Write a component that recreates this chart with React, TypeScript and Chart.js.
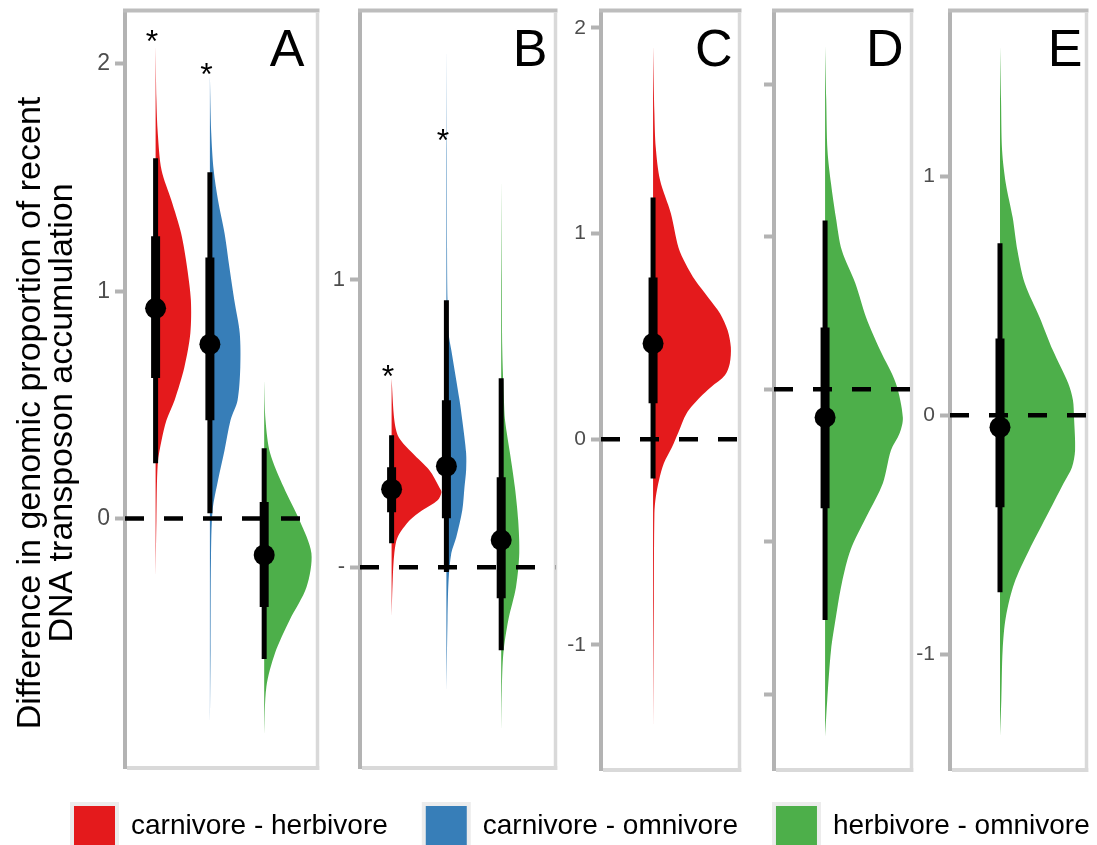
import React, { useEffect, useRef } from "react";
import { Chart, registerables } from "chart.js";

Chart.register(...registerables);

const FONT = "'Liberation Sans', Arial, Helvetica, sans-serif";

const contrastLabels = ["carnivore - herbivore", "carnivore - omnivore", "herbivore - omnivore"];
const contrastColors = ["#E41A1C", "#377EB8", "#4DAF4A"];
const yTitleLines = ["Difference in genomic proportion of recent", "DNA transposon accumulation"];
const referenceLine = 0;

// ---------- Panel A ----------
const aCarnHerbValues = [-0.27, -0.007, 0.244, 0.345, 0.433, 0.521, 0.666, 0.815, 0.96, 1.105, 1.255, 1.4, 1.532, 1.695, 1.84, 2.081];
const aCarnHerbDensity = [0, 0.015, 0.04, 0.11, 0.2, 0.35, 0.53, 0.64, 0.65, 0.58, 0.47, 0.29, 0.11, 0.04, 0.015, 0];
const aCarnOmniValues = [-0.93, -0.578, -0.182, 0.037, 0.169, 0.301, 0.433, 0.521, 0.666, 0.815, 0.96, 1.105, 1.255, 1.4, 1.532, 1.695, 1.949];
const aCarnOmniDensity = [0, 0.012, 0.02, 0.05, 0.15, 0.27, 0.38, 0.51, 0.56, 0.55, 0.45, 0.36, 0.27, 0.15, 0.07, 0.025, 0];
const aHerbOmniValues = [-0.952, -0.741, -0.591, -0.446, -0.301, -0.152, -0.007, 0.138, 0.288, 0.433, 0.609];
const aHerbOmniDensity = [0, 0.04, 0.2, 0.47, 0.78, 0.87, 0.65, 0.36, 0.11, 0.025, 0];
const aMedian = [0.925, 0.767, -0.16];
const aLow66 = [0.618, 0.433, -0.389];
const aHigh66 = [1.242, 1.149, 0.073];
const aLow95 = [0.244, 0.024, -0.618];
const aHigh95 = [1.585, 1.523, 0.31];
const aStars: (number | null)[] = [2.134, 1.989, null];
const aTicks = [0, 1, 2];
const aTickLabels = ["0", "1", "2"];

// ---------- Panel B ----------
const bCarnHerbValues = [-0.177, -0.045, 0.049, 0.104, 0.163, 0.198, 0.233, 0.261, 0.278, 0.337, 0.397, 0.452, 0.511, 0.657];
const bCarnHerbDensity = [0, 0.02, 0.05, 0.11, 0.33, 0.56, 0.84, 0.91, 0.87, 0.69, 0.38, 0.13, 0.05, 0];
const bCarnOmniValues = [-0.445, -0.184, -0.045, 0.049, 0.104, 0.198, 0.278, 0.337, 0.397, 0.511, 0.581, 0.755, 0.814, 0.929, 1.103, 1.45, 1.816];
const bCarnOmniDensity = [0, 0.02, 0.04, 0.09, 0.18, 0.29, 0.33, 0.36, 0.36, 0.29, 0.24, 0.09, 0.04, 0.02, 0.012, 0.008, 0];
const bHerbOmniValues = [-0.584, -0.428, -0.299, -0.184, -0.07, 0.049, 0.163, 0.278, 0.397, 0.511, 0.581, 0.755, 0.998, 1.357];
const bHerbOmniDensity = [0, 0.012, 0.04, 0.13, 0.27, 0.33, 0.31, 0.25, 0.16, 0.07, 0.05, 0.02, 0.012, 0];
const bMedian = [0.271, 0.351, 0.094];
const bLow66 = [0.191, 0.17, -0.108];
const bHigh66 = [0.348, 0.581, 0.313];
const bLow95 = [0.083, -0.017, -0.289];
const bHigh95 = [0.459, 0.929, 0.657];
const bStars: (number | null)[] = [0.692, 1.513, null];
const bTicks = [0, 1];
const bTickLabels = ["-", "1"];

// ---------- Panel C (carnivore - herbivore) ----------
const cValues = [-1.448, -0.782, -0.36, -0.282, -0.199, -0.117, -0.039, 0.034, 0.126, 0.204, 0.253, 0.311, 0.369, 0.447, 0.53, 0.612, 0.69, 0.773, 0.855, 0.933, 1.098, 1.259, 1.419, 1.584, 1.914];
const cDensity = [0, 0.015, 0.025, 0.05, 0.11, 0.2, 0.35, 0.47, 0.62, 0.87, 1.07, 1.33, 1.42, 1.44, 1.38, 1.24, 1.02, 0.78, 0.6, 0.47, 0.33, 0.13, 0.05, 0.025, 0];
const cMedian = [0.466];
const cLow66 = [0.175];
const cHigh66 = [0.787];
const cLow95 = [-0.19];
const cHigh95 = [1.176];
const cTicks = [-1, 0, 1, 2];
const cTickLabels = ["-1", "0", "1", "2"];

// ---------- Panel D (herbivore - omnivore) ----------
const dValues = [-1.141, -1.02, -0.856, -0.748, -0.636, -0.528, -0.42, -0.308, -0.2, -0.144, -0.092, 0.02, 0.128, 0.236, 0.348, 0.456, 0.564, 0.675, 0.784, 0.948, 1.128];
const dDensity = [0, 0.04, 0.11, 0.2, 0.31, 0.47, 0.76, 1.07, 1.22, 1.38, 1.44, 1.31, 1.02, 0.76, 0.56, 0.31, 0.2, 0.11, 0.045, 0.022, 0];
const dMedian = [-0.092];
const dLow66 = [-0.39];
const dHigh66 = [0.203];
const dLow95 = [-0.757];
const dHigh95 = [0.554];
const dTicks = [-1, -0.5, 0, 0.5, 1];
const dTickLabels = ["", "", "", "", ""];

// ---------- Panel E (herbivore - omnivore) ----------
const eValues = [-1.347, -1.192, -0.983, -0.845, -0.703, -0.565, -0.427, -0.285, -0.218, -0.146, -0.008, 0.063, 0.134, 0.272, 0.41, 0.552, 0.69, 0.828, 0.971, 1.109, 1.318, 1.548];
const eDensity = [0, 0.025, 0.05, 0.11, 0.27, 0.55, 0.87, 1.2, 1.36, 1.42, 1.4, 1.38, 1.29, 1.0, 0.75, 0.47, 0.33, 0.24, 0.11, 0.04, 0.02, 0];
const eMedian = [-0.05];
const eLow66 = [-0.385];
const eHigh66 = [0.322];
const eLow95 = [-0.741];
const eHigh95 = [0.72];
const eTicks = [-1, 0, 1];
const eTickLabels = ["-1", "0", "1"];

type Layout = {
  left: number; width: number; height: number; axisWidth: number;
  padTop: number; padBottom: number; padRight: number;
  xMin: number; xMax: number; yMin: number; yMax: number;
  letterInset: number; tickFont: number;
};

type Panel = {
  letter: string;
  groups: number[];
  values: number[][];
  densities: number[][];
  median: number[]; low66: number[]; high66: number[]; low95: number[]; high95: number[];
  stars: (number | null)[];
  ticks: number[]; tickLabels: string[];
  title: boolean;
  layout: Layout;
};

const panels: Panel[] = [
  {
    letter: "A", groups: [0, 1, 2],
    values: [aCarnHerbValues, aCarnOmniValues, aHerbOmniValues],
    densities: [aCarnHerbDensity, aCarnOmniDensity, aHerbOmniDensity],
    median: aMedian, low66: aLow66, high66: aHigh66, low95: aLow95, high95: aHigh95,
    stars: aStars, ticks: aTicks, tickLabels: aTickLabels, title: true,
    layout: { left: 8, width: 320, height: 783, axisWidth: 117, padTop: 10, padBottom: 15, padRight: 8,
      xMin: 0.4364, xMax: 3.982, yMin: -1.097, yMax: 2.235, letterInset: 13, tickFont: 23 },
  },
  {
    letter: "B", groups: [0, 1, 2],
    values: [bCarnHerbValues, bCarnOmniValues, bHerbOmniValues],
    densities: [bCarnHerbDensity, bCarnOmniDensity, bHerbOmniDensity],
    median: bMedian, low66: bLow66, high66: bHigh66, low95: bLow95, high95: bHigh95,
    stars: bStars, ticks: bTicks, tickLabels: bTickLabels, title: false,
    layout: { left: 320, width: 246, height: 783, axisWidth: 40, padTop: 10, padBottom: 15, padRight: 8,
      xMin: 0.4234, xMax: 3.991, yMin: -0.699, yMax: 1.937, letterInset: 8, tickFont: 22 },
  },
  {
    letter: "C", groups: [0], values: [cValues], densities: [cDensity],
    median: cMedian, low66: cLow66, high66: cHigh66, low95: cLow95, high95: cHigh95,
    stars: [null], ticks: cTicks, tickLabels: cTickLabels, title: false,
    layout: { left: 561, width: 189, height: 783, axisWidth: 40, padTop: 10, padBottom: 13, padRight: 8,
      xMin: 0.0364, xMax: 2.6, yMin: -1.608, yMax: 2.085, letterInset: 7, tickFont: 21 },
  },
  {
    letter: "D", groups: [2], values: [dValues], densities: [dDensity],
    median: dMedian, low66: dLow66, high66: dHigh66, low95: dLow95, high95: dHigh95,
    stars: [null], ticks: dTicks, tickLabels: dTickLabels, title: false,
    layout: { left: 744, width: 178, height: 783, axisWidth: 30, padTop: 10, padBottom: 13, padRight: 8,
      xMin: 0.0545, xMax: 2.6, yMin: -1.249, yMax: 1.243, letterInset: 8, tickFont: 21 },
  },
  {
    letter: "E", groups: [2], values: [eValues], densities: [eDensity],
    median: eMedian, low66: eLow66, high66: eHigh66, low95: eLow95, high95: eHigh95,
    stars: [null], ticks: eTicks, tickLabels: eTickLabels, title: false,
    layout: { left: 910, width: 187, height: 783, axisWidth: 40, padTop: 10, padBottom: 13, padRight: 5,
      xMin: 0.0545, xMax: 2.636, yMin: -1.485, yMax: 1.695, letterInset: 4, tickFont: 21 },
  },
];

const STAR_SIZE = 32;

function decorPlugin(p: Panel) {
  return {
    id: "panelDecor" + p.letter,
    beforeDatasetsDraw(chart: any) {
      const { ctx, chartArea: a } = chart;
      ctx.save();
      ctx.lineCap = "butt";
      ctx.lineWidth = 4;
      ctx.strokeStyle = "#bdbdbd";
      ctx.beginPath();
      ctx.moveTo(a.left - 2, a.top);
      ctx.lineTo(a.right + 2, a.top);
      ctx.stroke();
      ctx.strokeStyle = "#d9d9d9";
      ctx.lineWidth = 3.5;
      ctx.beginPath();
      ctx.moveTo(a.right, a.top + 2);
      ctx.lineTo(a.right, a.bottom + 2);
      ctx.stroke();
      ctx.lineWidth = 4;
      ctx.beginPath();
      ctx.moveTo(a.left + 2, a.bottom);
      ctx.lineTo(a.right + 1.75, a.bottom);
      ctx.stroke();
      ctx.restore();
    },
    afterDatasetsDraw(chart: any) {
      const { ctx, chartArea: a } = chart;
      const xs = chart.scales.x;
      const ys = chart.scales.y;
      ctx.save();
      ctx.fillStyle = "#000";
      ctx.font = `52px ${FONT}`;
      ctx.textAlign = "right";
      ctx.textBaseline = "alphabetic";
      ctx.fillText(p.letter, a.right - p.layout.letterInset, a.top + 55);

      ctx.font = `${STAR_SIZE}px ${FONT}`;
      ctx.textAlign = "center";
      p.stars.forEach((s, i) => {
        if (s === null) return;
        const x = xs.getPixelForValue(i + 1) - 3.5;
        const y = ys.getPixelForValue(s);
        ctx.fillText("*", x, y + 0.58 * STAR_SIZE);
      });

      if (p.title) {
        ctx.font = `34px ${FONT}`;
        ctx.textAlign = "center";
        const baseX = [32, 64];
        yTitleLines.forEach((line, i) => {
          ctx.save();
          ctx.translate(baseX[i], 413);
          ctx.rotate(-Math.PI / 2);
          ctx.fillText(line, 0, 0);
          ctx.restore();
        });
      }
      ctx.restore();
    },
  };
}

function buildConfig(p: Panel): any {
  const L = p.layout;
  const datasets: any[] = [];
  p.values.forEach((vals, i) => {
    const c = i + 1;
    const color = contrastColors[p.groups[i]];
    datasets.push({
      label: contrastLabels[p.groups[i]],
      data: vals.map((v, j) => ({ x: c + p.densities[i][j], y: v })),
      showLine: true,
      fill: "shape",
      tension: 0.3,
      backgroundColor: color,
      borderColor: "rgba(0,0,0,0)",
      borderWidth: 0,
      pointRadius: 0,
      order: 4,
    });
    datasets.push({
      data: [{ x: c, y: p.low95[i] }, { x: c, y: p.high95[i] }],
      showLine: true, borderColor: "#000", borderWidth: 5, borderCapStyle: "butt",
      pointRadius: 0, fill: false, order: 2,
    });
    datasets.push({
      data: [{ x: c, y: p.low66[i] }, { x: c, y: p.high66[i] }],
      showLine: true, borderColor: "#000", borderWidth: 9, borderCapStyle: "butt",
      pointRadius: 0, fill: false, order: 1,
    });
    datasets.push({
      data: [{ x: c, y: p.median[i] }],
      showLine: false, pointRadius: 10.5, pointStyle: "circle",
      pointBackgroundColor: "#000", pointBorderColor: "#000", pointBorderWidth: 0, order: 0,
    });
  });
  datasets.push({
    data: [{ x: L.xMin, y: referenceLine }, { x: L.xMax, y: referenceLine }],
    showLine: true, borderColor: "#000", borderWidth: 4.5, borderDash: [19, 20],
    pointRadius: 0, fill: false, order: 3,
  });

  return {
    type: "scatter",
    data: { datasets },
    plugins: [decorPlugin(p)],
    options: {
      animation: false,
      responsive: false,
      events: [],
      layout: { padding: { left: 0, right: L.padRight, top: L.padTop, bottom: L.padBottom } },
      plugins: { legend: { display: false }, tooltip: { enabled: false } },
      scales: {
        x: { type: "linear", display: false, min: L.xMin, max: L.xMax },
        y: {
          type: "linear",
          min: L.yMin,
          max: L.yMax,
          afterBuildTicks: (s: any) => { s.ticks = p.ticks.map((v) => ({ value: v })); },
          afterFit: (s: any) => { s.width = L.axisWidth; s.paddingTop = 0; s.paddingBottom = 0; },
          grid: { display: true, drawOnChartArea: false, drawTicks: true, tickLength: 10, tickWidth: 4, tickColor: "#b3b3b3" },
          border: { display: true, color: "#b3b3b3", width: 4 },
          ticks: {
            autoSkip: false,
            maxRotation: 0,
            padding: 5,
            color: "#4d4d4d",
            font: { family: FONT, size: L.tickFont },
            callback: (v: number) => {
              const k = p.ticks.indexOf(v);
              return k >= 0 ? p.tickLabels[k] : "";
            },
          },
        },
      },
    },
  };
}

function PanelChart({ panel }: { panel: Panel }) {
  const ref = useRef<HTMLCanvasElement>(null);
  useEffect(() => {
    const chart = new Chart(ref.current as HTMLCanvasElement, buildConfig(panel));
    return () => chart.destroy();
  }, [panel]);
  const L = panel.layout;
  return (
    <canvas
      ref={ref}
      width={L.width}
      height={L.height}
      style={{ position: "absolute", left: L.left, top: 0, width: L.width, height: L.height }}
    />
  );
}

function LegendChart() {
  const ref = useRef<HTMLCanvasElement>(null);
  useEffect(() => {
    const chart = new Chart(ref.current as HTMLCanvasElement, {
      type: "bar",
      data: {
        labels: [],
        datasets: contrastLabels.map((label, i) => ({
          label,
          data: [],
          backgroundColor: contrastColors[i],
          borderColor: "#ececec",
          borderWidth: 4,
        })),
      },
      options: {
        animation: false,
        responsive: false,
        events: [],
        layout: { padding: 0 },
        scales: { x: { display: false }, y: { display: false } },
        plugins: {
          tooltip: { enabled: false },
          legend: {
            display: true,
            position: "top",
            align: "start",
            maxHeight: 150,
            labels: {
              boxWidth: 45,
              boxHeight: 45,
              padding: 36,
              color: "#000",
              font: { family: FONT, size: 28 },
            },
          },
        },
      },
    } as any);
    return () => chart.destroy();
  }, []);
  return (
    <canvas
      ref={ref}
      width={1100}
      height={260}
      style={{ position: "absolute", left: 36, top: 768, width: 1100, height: 260 }}
    />
  );
}

export default function App() {
  return (
    <div
      style={{
        position: "fixed",
        left: 0,
        top: 0,
        width: 1097,
        height: 845,
        overflow: "hidden",
        background: "#fff",
      }}
    >
      {panels.map((p) => (
        <PanelChart key={p.letter} panel={p} />
      ))}
      <LegendChart />
    </div>
  );
}
